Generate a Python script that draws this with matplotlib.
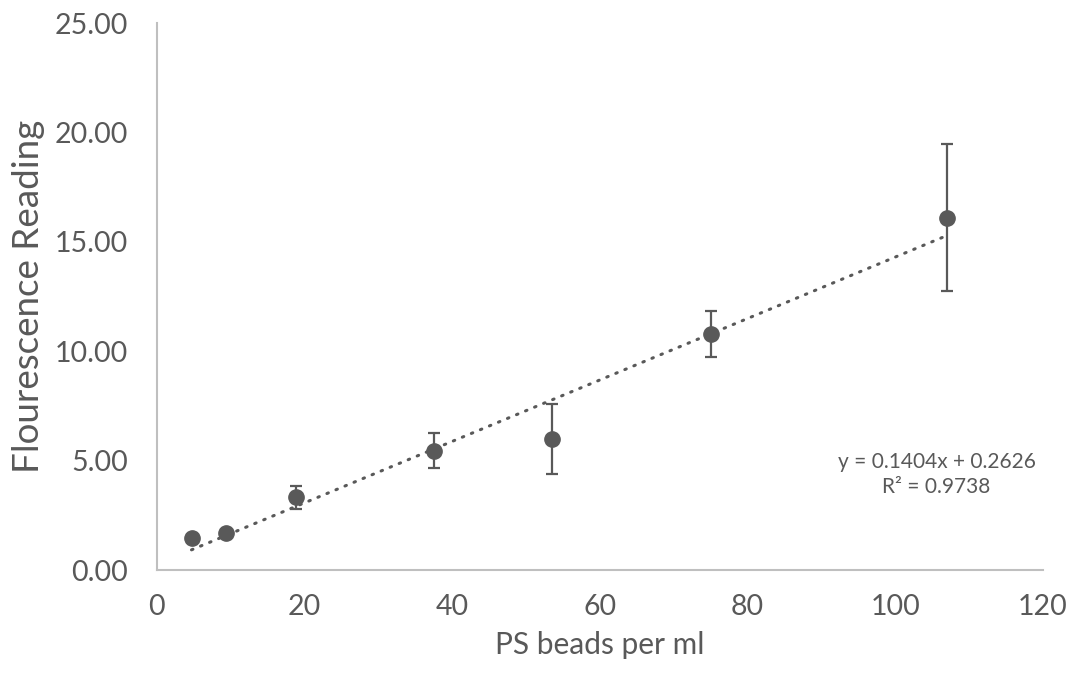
import matplotlib
matplotlib.use("Agg")
import matplotlib.pyplot as plt
import numpy as np

beads_per_ml = [4.7, 9.4, 18.8, 37.5, 53.5, 75.0, 107.0]
fluorescence = [1.45, 1.68, 3.32, 5.45, 5.97, 10.77, 16.1]
fluorescence_err = [0.15, 0.15, 0.54, 0.80, 1.60, 1.05, 3.37]
fit_slope = 0.1404
fit_intercept = 0.2626
fit_r2 = 0.9738

x_ticks = [0, 20, 40, 60, 80, 100, 120]
y_ticks = [0, 5, 10, 15, 20, 25]

grey = "#595959"

plt.rcParams["font.family"] = ["Lato", "DejaVu Sans"]

fig = plt.figure(figsize=(10.74, 6.77), dpi=100)
ax = fig.add_axes([0.146, 0.158, 0.825, 0.808])

ax.errorbar(
    beads_per_ml, fluorescence, yerr=fluorescence_err,
    fmt="o", color=grey, ecolor=grey, markersize=11,
    elinewidth=1.6, capsize=4.5, capthick=1.6, zorder=3,
)

# linear trendline over the data range
fit_x = np.array([min(beads_per_ml), max(beads_per_ml)])
ax.plot(
    fit_x, fit_slope * fit_x + fit_intercept,
    color=grey, linewidth=2.2, linestyle=(0, (0.5, 2.7)),
    dash_capstyle="round", zorder=2,
)

ax.text(
    105.6, 4.35,
    f"y = {fit_slope}x + {fit_intercept}\nR² = {fit_r2}",
    ha="center", va="center", fontsize=15, color=grey, linespacing=1.3,
)

ax.set_xlim(0, 120)
ax.set_ylim(0, 25)
ax.set_xticks(x_ticks)
ax.set_yticks(y_ticks)
ax.set_yticklabels([f"{v:.2f}" for v in y_ticks])
ax.tick_params(length=0, labelsize=20.5, labelcolor=grey)
ax.tick_params(axis="x", pad=17)
ax.tick_params(axis="y", pad=21)

for side in ("top", "right"):
    ax.spines[side].set_visible(False)
for side in ("left", "bottom"):
    ax.spines[side].set_color("#bfbfbf")
    ax.spines[side].set_linewidth(1.5)

ax.set_xlabel("PS beads per ml", fontsize=21.5, color=grey, labelpad=8)
ax.set_ylabel("Flourescence Reading", fontsize=26.5, color=grey, labelpad=7)

fig.savefig("out.png", dpi=100, facecolor="white")
